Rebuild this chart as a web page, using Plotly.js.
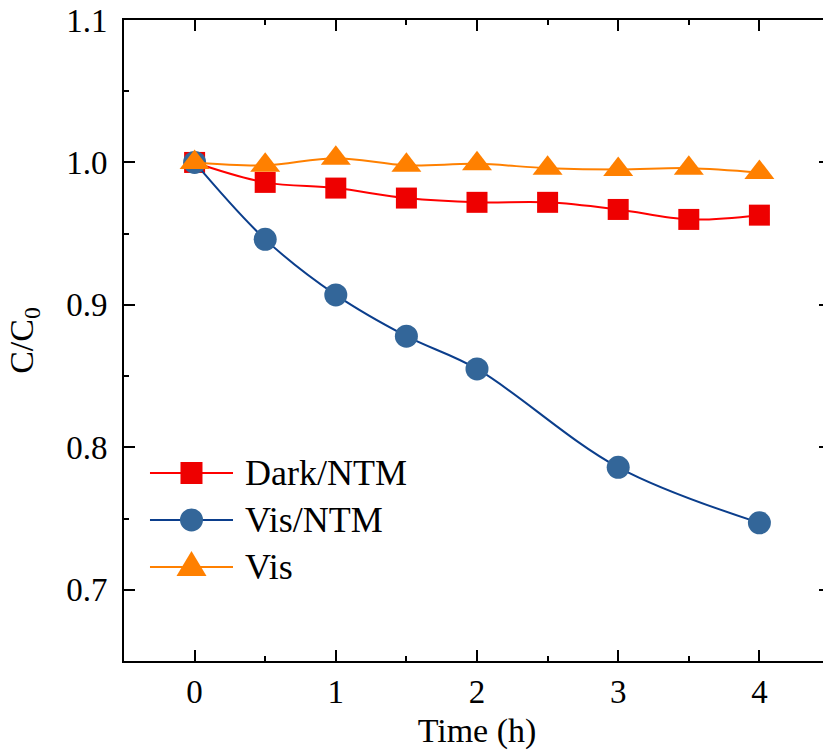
<!DOCTYPE html>
<html>
<head>
<meta charset="utf-8">
<script src="https://cdn.plot.ly/plotly-3.0.1.min.js"></script>
<style>
html,body{margin:0;padding:0;overflow:hidden;background:#fff;}
#chart{width:840px;height:755px;}
</style>
</head>
<body>
<div id="chart"></div>
<script>
// Data
const timeDark = [0, 0.5, 1, 1.5, 2, 2.5, 3, 3.5, 4];
const darkNTM  = [1.000, 0.986, 0.982, 0.975, 0.972, 0.972, 0.967, 0.960, 0.963];

const timeVisNTM = [0, 0.5, 1, 1.5, 2, 3, 4];
const visNTM     = [1.000, 0.946, 0.907, 0.878, 0.855, 0.786, 0.747];

const timeVis = [0, 0.5, 1, 1.5, 2, 2.5, 3, 3.5, 4];
const vis     = [1.000, 0.998, 1.003, 0.998, 0.999, 0.996, 0.995, 0.996, 0.993];

const seriesNames = ["Dark/NTM", "Vis/NTM", "Vis"];
const lineColors = ["#FF0000", "#0B3E8C", "#FF8000"];
const markerColors = ["#EE0000", "#336699", "#FF8000"];

const FONT = "Liberation Serif, Times New Roman, serif";

const traces = [
  {
    x: timeDark, y: darkNTM, name: seriesNames[0], type: "scatter", mode: "lines+markers",
    line: {color: lineColors[0], width: 2, shape: "spline"},
    marker: {symbol: "square", size: 21, color: markerColors[0], line: {width: 0}}
  },
  {
    x: timeVisNTM, y: visNTM, name: seriesNames[1], type: "scatter", mode: "lines+markers",
    line: {color: lineColors[1], width: 2, shape: "spline"},
    marker: {symbol: "circle", size: 23, color: markerColors[1], line: {width: 0}}
  },
  {
    x: timeVis, y: vis, name: seriesNames[2], type: "scatter", mode: "lines+markers",
    line: {color: lineColors[2], width: 2, shape: "spline"},
    marker: {symbol: "triangle-up", size: 26, color: markerColors[2], line: {width: 0}}
  }
];

// Custom legend (paper coordinates, sized in pixels) to match the reference's long sample lines
const legendRowsY = [0.2933, 0.2200, 0.1466];
const legLineX0 = 0.0368, legLineX1 = 0.1544, legMarkX = 0.0956, legTextX = 0.1686;
const shapes = [];
const annotations = [];
legendRowsY.forEach(function (yy, i) {
  shapes.push({type: "line", xref: "paper", yref: "paper", x0: legLineX0, x1: legLineX1, y0: yy, y1: yy,
               line: {color: lineColors[i], width: 2}});
  const base = {xref: "paper", yref: "paper", xsizemode: "pixel", ysizemode: "pixel",
                xanchor: legMarkX, yanchor: yy, fillcolor: markerColors[i], line: {width: 0}};
  if (i === 0) shapes.push(Object.assign({type: "rect", x0: -11, x1: 11, y0: -11, y1: 11}, base));
  if (i === 1) shapes.push(Object.assign({type: "circle", x0: -11.5, x1: 11.5, y0: -11.5, y1: 11.5}, base));
  if (i === 2) shapes.push(Object.assign({type: "path", path: "M-15,-9 L15,-9 L0,16 Z"}, base));
  annotations.push({xref: "paper", yref: "paper", x: legTextX, y: yy, xanchor: "left", yanchor: "middle",
                    text: seriesNames[i], showarrow: false,
                    font: {family: FONT, size: 36, color: "#000"}});
});

const axisCommon = {
  showline: true, linecolor: "#000", linewidth: 2, mirror: "allticks",
  ticks: "inside", ticklen: 11, tickwidth: 2, tickcolor: "#000",
  showgrid: false, zeroline: false,
  tickfont: {family: FONT, size: 33, color: "#000"}
};

const layout = {
  width: 840, height: 755,
  margin: {l: 124, r: 10, t: 20, b: 94},
  paper_bgcolor: "#fff", plot_bgcolor: "#fff",
  font: {family: FONT, color: "#000"},
  showlegend: false,
  shapes: shapes,
  annotations: annotations,
  xaxis: Object.assign({}, axisCommon, {
    range: [-0.5, 4.5], tick0: 0, dtick: 1,
    minor: {dtick: 0.5, ticks: "inside", ticklen: 5, tickwidth: 2, tickcolor: "#000", showgrid: false},
    title: {text: "Time (h)", font: {family: FONT, size: 34, color: "#000"}, standoff: 10}
  }),
  yaxis: Object.assign({}, axisCommon, {
    range: [0.65, 1.1], tick0: 0.7, dtick: 0.1, tickformat: ".1f",
    ticklabelstandoff: 8,
    minor: {dtick: 0.05, ticks: "inside", ticklen: 5, tickwidth: 2, tickcolor: "#000", showgrid: false},
    title: {text: "C/C<sub>0</sub>", font: {family: FONT, size: 34, color: "#000"}, standoff: 22}
  })
};

Plotly.newPlot("chart", traces, layout, {displayModeBar: false, staticPlot: true});
</script>
</body>
</html>
